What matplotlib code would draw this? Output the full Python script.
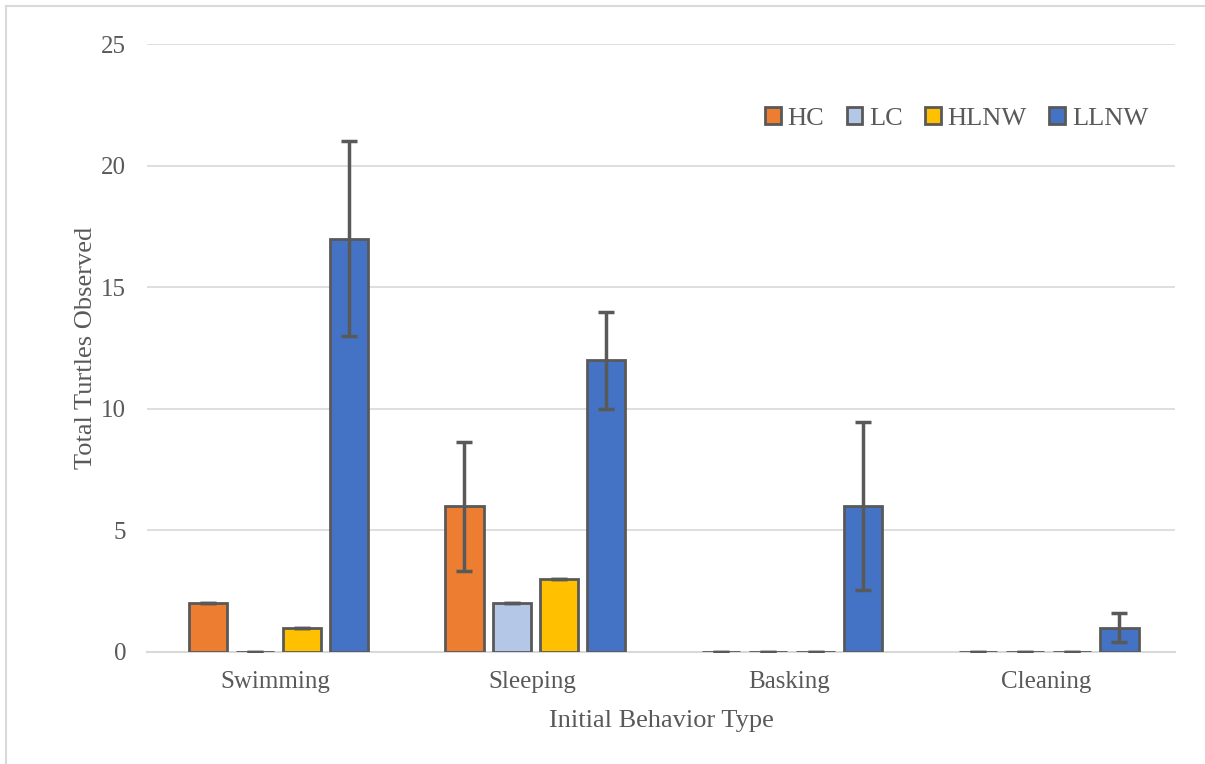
import matplotlib.pyplot as plt
import numpy as np
from matplotlib.lines import Line2D

categories = ['Swimming', 'Sleeping', 'Basking', 'Cleaning']
series = ['HC', 'LC', 'HLNW', 'LLNW']
colors = ['#ED7D31', '#B4C7E7', '#FFC000', '#4472C4']

hc = [2, 6, 0, 0]
lc = [0, 2, 0, 0]
hlnw = [1, 3, 0, 0]
llnw = [17, 12, 6, 1]

hc_err = [0, 2.65, 0, 0]
lc_err = [0, 0, 0, 0]
hlnw_err = [0, 0, 0, 0]
llnw_err = [4, 2, 3.45, 0.6]

values = [hc, lc, hlnw, llnw]
errors = [hc_err, lc_err, hlnw_err, llnw_err]

plt.rcParams['font.family'] = ['Liberation Serif', 'DejaVu Serif']
text_color = '#595959'

fig = plt.figure(figsize=(12.05, 7.64), dpi=100)
ax = fig.add_axes([0.122, 0.1466, 0.853, 0.7958])

x = np.arange(len(categories))
step = 0.183
width = 0.148
for i, (name, vals, errs, col) in enumerate(zip(series, values, errors, colors)):
    pos = x + (i - 1.5) * step + 0.01
    ax.bar(pos, vals, width, color=col, edgecolor='#595959', linewidth=2,
           label=name, zorder=3)
    ax.errorbar(pos, vals, yerr=errs, fmt='none', ecolor='#595959',
                elinewidth=2.5, capsize=6, capthick=2.5, zorder=4)

ax.set_xlim(-0.5, 3.5)
ax.set_ylim(0, 25)
ax.set_yticks([0, 5, 10, 15, 20, 25])
ax.set_xticks(x)
ax.set_xticklabels(categories)
ax.yaxis.grid(True, color='#D9D9D9', linewidth=1.2, zorder=0)
ax.set_axisbelow(True)
for s in ['top', 'right', 'left']:
    ax.spines[s].set_visible(False)
ax.spines['bottom'].set_color('#D9D9D9')
ax.spines['bottom'].set_linewidth(1.5)
ax.tick_params(axis='both', length=0, labelsize=18, colors=text_color)
ax.tick_params(axis='x', pad=14)
ax.tick_params(axis='y', pad=15)

ax.set_xlabel('Initial Behavior Type', fontsize=19, color=text_color, labelpad=12)
ax.set_ylabel('Total Turtles Observed', fontsize=19, color=text_color, labelpad=3)

handles = [plt.Rectangle((0, 0), 1, 1, facecolor=c, edgecolor='#595959', linewidth=2)
           for c in colors]
ax.legend(handles, series, loc='upper right', bbox_to_anchor=(0.997, 0.935), ncol=4,
          frameon=False, fontsize=19, labelcolor=text_color, handlelength=0.6,
          handleheight=0.6, handletextpad=0.25, columnspacing=0.85)

# chart area border
fig.add_artist(Line2D([0.005, 0.005], [0.992, 0.0], color='#D9D9D9', linewidth=1.5))
fig.add_artist(Line2D([0.005, 1.0], [0.992, 0.992], color='#D9D9D9', linewidth=1.5))

fig.savefig('out.png', dpi=100)
